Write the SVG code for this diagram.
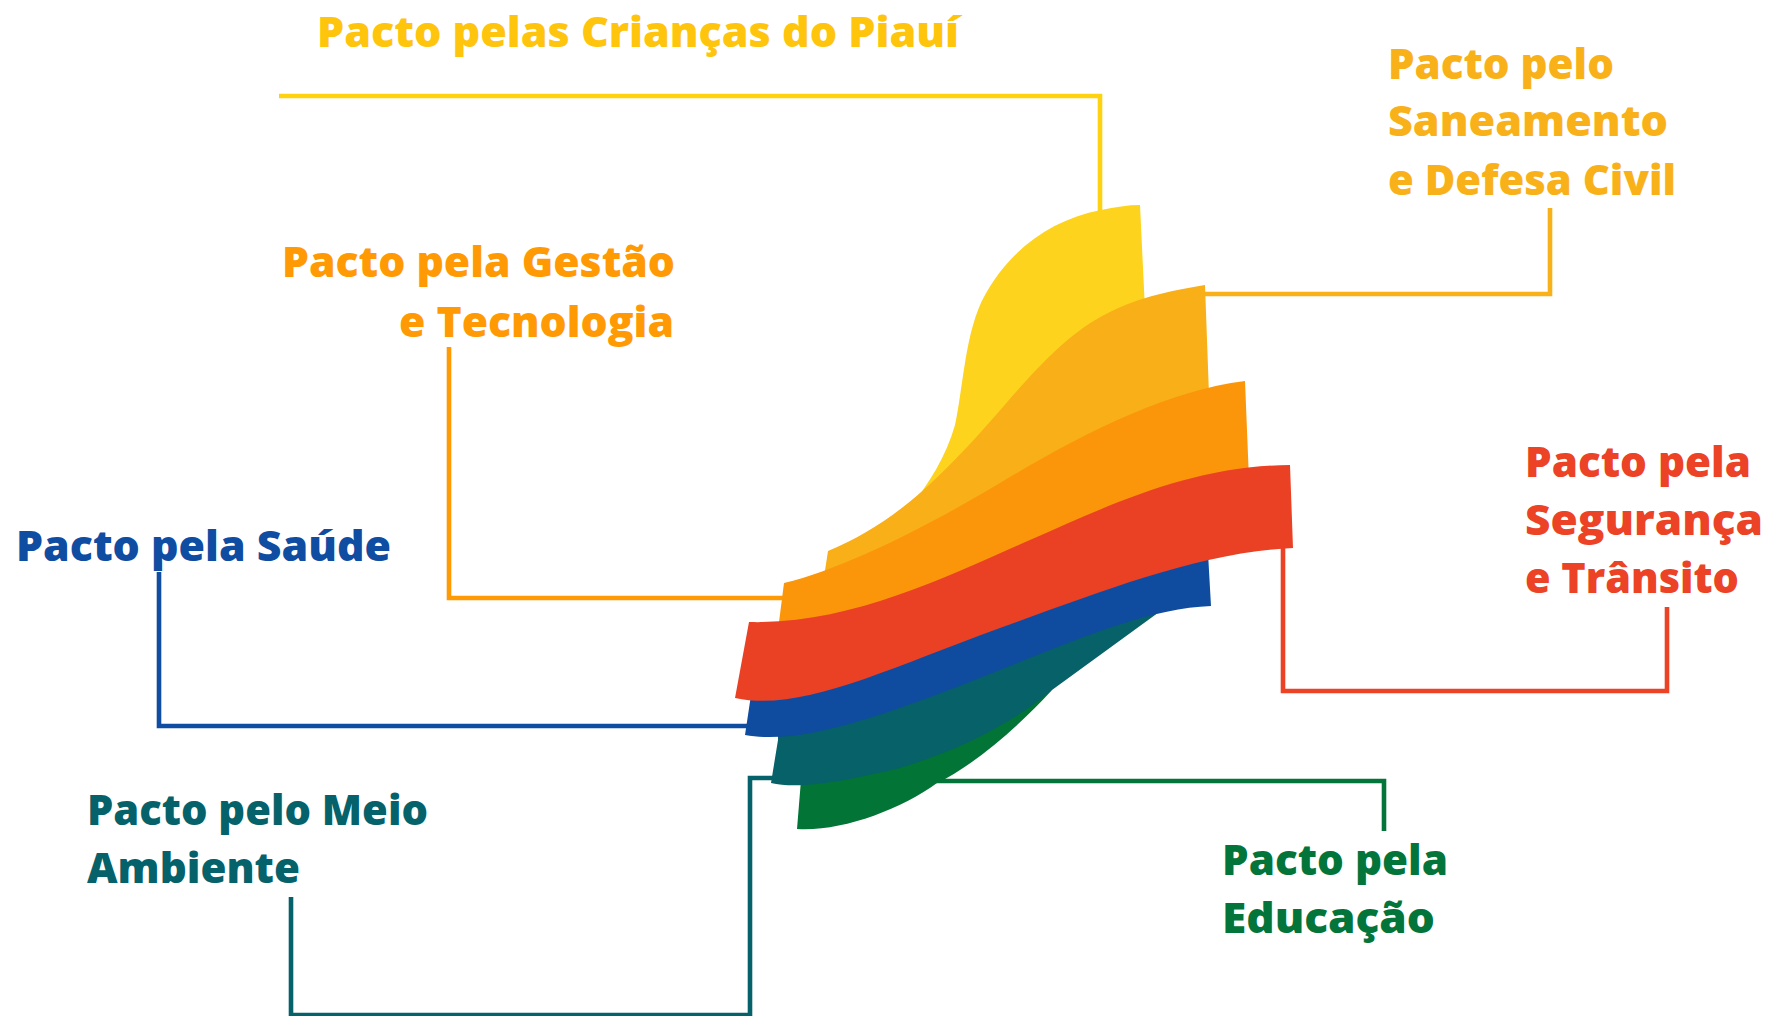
<svg xmlns="http://www.w3.org/2000/svg" width="1767" height="1016" viewBox="0 0 1767 1016">
<style>
  .lbl { font-family: "Open Sans", "Noto Sans", "Liberation Sans", sans-serif; font-weight: 800; font-size: 42px; }
  .c { fill: none; stroke-width: 4.6; stroke-linejoin: miter; stroke-linecap: butt; }
  .yel { fill: #FFC40C; } .amb { fill: #F9B11A; } .org { fill: #FF9A05; } .red { fill: #EC4225; }
  .blu { fill: #0F4DA2; } .tea { fill: #06626A; } .grn { fill: #04753A; }
</style>
<rect width="1767" height="1016" fill="#ffffff"/>

<g id="connectors">
  <path class="c" stroke="#FFD20F" d="M279,96 H1100 V212"/>
  <path class="c" stroke="#F9B11A" d="M1204,294 H1550 V208"/>
  <path class="c" stroke="#FF9A05" d="M449,347 V598 H784"/>
  <path class="c" stroke="#0F4DA2" d="M159,572 V726 H748"/>
  <path class="c" stroke="#06626A" d="M291,897 V1015 H750 V778 H774"/>
  <path class="c" stroke="#04753A" d="M935,781 H1384 V831"/>
  <path class="c" stroke="#EC4225" d="M1283,546 V691 H1667 V607"/>
</g>

<g id="emblem">
  <path fill="#FDD31D" d="M1140,205 L1145,310 L1040,410 L900,520 C925,490 945,460 955,425 C963,390 965,330 985,295 C1010,250 1050,220 1101,210 C1115,207 1128,205 1140,205 Z"/>
  <path fill="#F8AF18" d="M828,551 C888,526 933,488 1003,407 C1073,326 1105,301 1205,285 L1209,395 L1000,492 L830,585 L824,577 Z"/>
  <path fill="#FB960A" d="M784,583 C844,569 930,525 1000,483 C1080,435 1165,391 1245,381 L1249,480 L1000,575 L800,630 L779,630 L779,622 Z"/>
  <path fill="#027536" d="M801,780 L797,829 C840,832 900,810 937,783 C975,765 1020,725 1052,690 L1000,712 L900,750 Z"/>
  <path fill="#076168" d="M778,728 L778,740 L771,783 C800,790 850,780 900,768 C960,750 1010,725 1052,690 L1166,607 L1100,615 L900,690 Z"/>
  <path fill="#0F4C9F" d="M751,695 L745,735 C800,745 880,718 1000,670 C1080,638 1150,608 1211,606 L1208,553 L1100,580 L900,650 Z"/>
  <path fill="#EA4024" d="M749,622 C850,625 950,575 1030,540 C1110,505 1190,466 1290,465 L1293,548 C1200,552 1100,592 1000,628 C880,672 800,712 735,698 Z"/>
</g>

<g id="node-criancas">
  <text class="lbl yel" x="317" y="47" textLength="642" lengthAdjust="spacingAndGlyphs">Pacto pelas Crianças do Piauí</text>
</g>
<g id="node-saneamento">
  <text class="lbl amb" x="1388" y="79" textLength="226" lengthAdjust="spacingAndGlyphs">Pacto pelo</text>
  <text class="lbl amb" x="1388" y="136" textLength="280" lengthAdjust="spacingAndGlyphs">Saneamento</text>
  <text class="lbl amb" x="1388" y="195" textLength="288" lengthAdjust="spacingAndGlyphs">e Defesa Civil</text>
</g>
<g id="node-gestao">
  <text class="lbl org" x="282" y="277" textLength="393" lengthAdjust="spacingAndGlyphs">Pacto pela Gestão</text>
  <text class="lbl org" x="399" y="337" textLength="275" lengthAdjust="spacingAndGlyphs">e Tecnologia</text>
</g>
<g id="node-saude">
  <text class="lbl blu" x="16" y="561" textLength="375" lengthAdjust="spacingAndGlyphs">Pacto pela Saúde</text>
</g>
<g id="node-seguranca">
  <text class="lbl red" x="1525" y="477" textLength="226" lengthAdjust="spacingAndGlyphs">Pacto pela</text>
  <text class="lbl red" x="1525" y="535" textLength="238" lengthAdjust="spacingAndGlyphs">Segurança</text>
  <text class="lbl red" x="1525" y="593" textLength="214" lengthAdjust="spacingAndGlyphs">e Trânsito</text>
</g>
<g id="node-meio-ambiente">
  <text class="lbl tea" x="87" y="825" textLength="341" lengthAdjust="spacingAndGlyphs">Pacto pelo Meio</text>
  <text class="lbl tea" x="87" y="883" textLength="213" lengthAdjust="spacingAndGlyphs">Ambiente</text>
</g>
<g id="node-educacao">
  <text class="lbl grn" x="1222" y="875" textLength="226" lengthAdjust="spacingAndGlyphs">Pacto pela</text>
  <text class="lbl grn" x="1222" y="933" textLength="213" lengthAdjust="spacingAndGlyphs">Educação</text>
</g>
</svg>
